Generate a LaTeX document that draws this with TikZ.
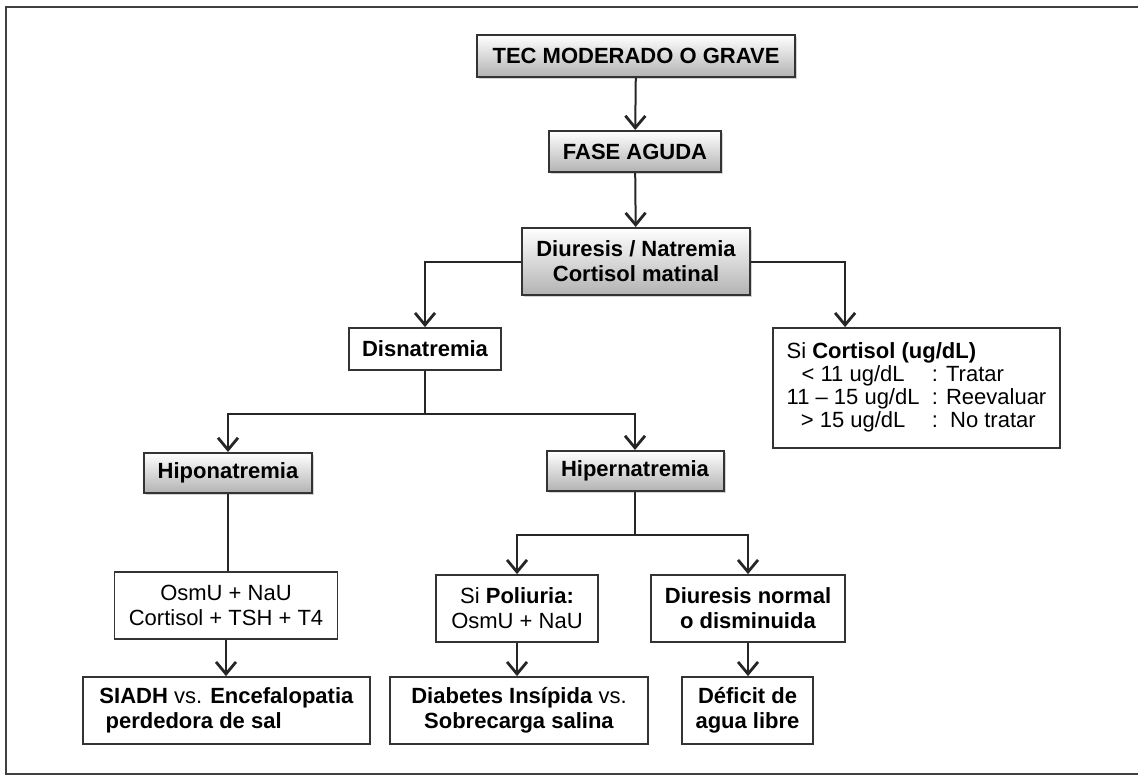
\documentclass[tikz,border=0pt]{standalone}
\usepackage{fontspec}
\setmainfont{Liberation Sans}
\usetikzlibrary{arrows.meta, shadows}

\begin{document}
\begin{tikzpicture}[x=0.5pt, y=-0.5pt, font=\fontsize{11}{12.5}\selectfont,
    graybox/.style={draw=black!80, line width=1pt, top color=white, bottom color=black!30, align=center, inner sep=2pt, font=\fontsize{11}{12.5}\selectfont\bfseries, drop shadow={opacity=0.35, shadow xshift=1.2pt, shadow yshift=-1.2pt}},
    whitebox/.style={draw=black!80, line width=0.9pt, fill=white, align=center, inner sep=2pt},
    link/.style={draw=black!85, line width=1pt},
    arr/.style={link, -{Straight Barb[length=6pt, width=10pt, line width=1.4pt]}}]
      \useasboundingbox (0,0) rectangle (1138,775);
      \draw[black!75, line width=1pt] (1138,7) -- (6,7) -- (6,774) -- (1138,774);
      \node[graybox, minimum width=159pt, minimum height=21pt] (tec) at (636,56) {TEC MODERADO O GRAVE};
      \node[graybox, minimum width=86pt, minimum height=20.5pt] (fase) at (635,151.5) {FASE AGUDA};
      \node[graybox, minimum width=114pt, minimum height=33.5pt] (diur) at (636,261.5) {Diuresis / Natremia\\Cortisol matinal};
      \draw[arr] (tec) -- (fase);
      \draw[arr] (fase) -- (diur);
      \node[whitebox, minimum width=76pt, minimum height=21pt, font=\fontsize{11}{12.5}\selectfont\bfseries] (disn) at (425,349) {Disnatremia};
      \node[whitebox, minimum width=143.5pt, minimum height=60pt, font=\fontsize{11}{11.5}\selectfont] (cort) at (916.5,388) {\begin{tabular}{@{}c@{\ \ }l@{}}
        \multicolumn{2}{@{}l}{Si \textbf{Cortisol (ug/dL)}}\\
        < 11 ug/dL & : Tratar\\
        11 -- 15 ug/dL & : Reevaluar\\
        > 15 ug/dL & :\ \ No tratar
      \end{tabular}};
      \draw[arr] (diur.west) -| (disn.north);
      \draw[arr] (diur.east) -| ([xshift=36.5pt]cort.north west);
      \node[graybox, minimum width=84pt, minimum height=20pt] (hipo) at (228,473) {Hiponatremia};
      \node[graybox, minimum width=88.5pt, minimum height=20pt] (hiper) at (635,471) {Hipernatremia};
      \draw[link] (disn.south) -- ++(0,43) coordinate (split1);
      \draw[arr] (split1) -| (hipo.north);
      \draw[arr] (split1) -| (hiper.north);
      % rama hiponatremia
      \node[whitebox, minimum width=111.5pt, minimum height=33.5pt] (osm) at (226,605.5) {OsmU + NaU\\Cortisol + TSH + T4};
      \node[whitebox, minimum width=143.5pt, minimum height=33.5pt, align=left] (siadh) at (226.5,710.5) {\textbf{SIADH} vs. \textbf{Encefalopatia}\\\ \textbf{perdedora de sal}};
      \draw[link] (hipo.south) -- (hipo.south |- osm.north);
      \draw[arr] (osm.south) -- (osm.south |- siadh.north);
      % rama hipernatremia
      \node[whitebox, minimum width=81pt, minimum height=33.5pt] (poli) at (517,608.5) {Si \textbf{Poliuria:}\\OsmU + NaU};
      \node[whitebox, minimum width=97pt, minimum height=33.5pt] (dnorm) at (748,608.5) {\textbf{Diuresis normal}\\\textbf{o disminuida}};
      \node[whitebox, minimum width=129pt, minimum height=33.5pt] (diab) at (519,710.5) {\textbf{Diabetes Insípida} vs.\\\textbf{Sobrecarga salina}};
      \node[whitebox, minimum width=65.5pt, minimum height=33.5pt] (defic) at (747.5,710.5) {\textbf{Déficit de}\\\textbf{agua libre}};
      \draw[link] (hiper.south) -- ++(0,43) coordinate (split2);
      \draw[arr] (split2) -| (poli.north);
      \draw[arr] (split2) -| (dnorm.north);
      \draw[arr] (poli.south) -- (poli.south |- diab.north);
      \draw[arr] (dnorm.south) -- (dnorm.south |- defic.north);
\end{tikzpicture}
\end{document}
